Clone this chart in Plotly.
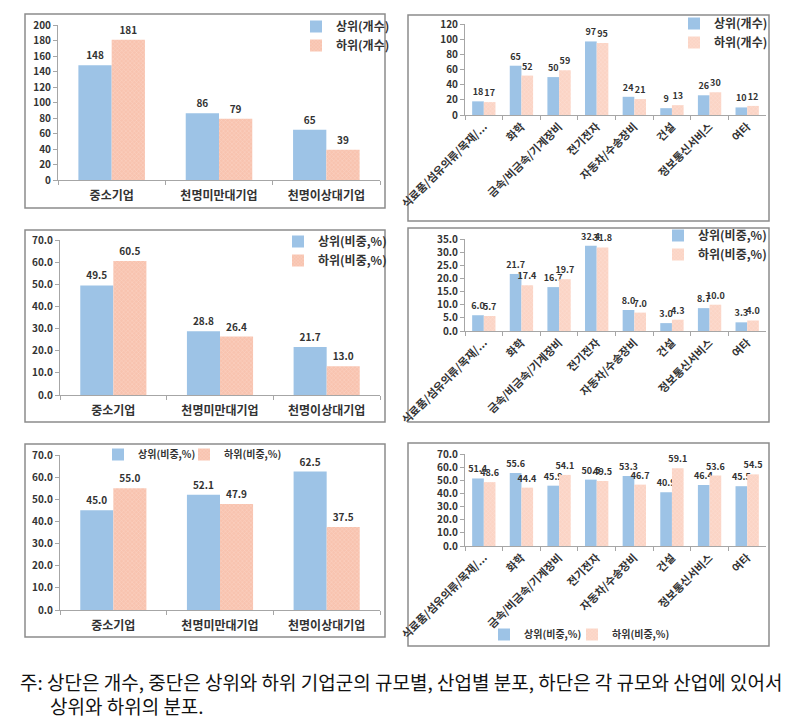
import plotly.graph_objects as go

W, H = 793, 719

size_cats = ["중소기업", "천명미만대기업", "천명이상대기업"]
ind_cats = ["식료품/섬유의류/목재/...", "화학", "금속/비금속/기계장비", "전기전자",
            "자동차/수송장비", "건설", "정보통신서비스", "여타"]

p1_upper = [148, 86, 65]
p1_lower = [181, 79, 39]
p2_upper = [18, 65, 50, 97, 24, 9, 26, 10]
p2_lower = [17, 52, 59, 95, 21, 13, 30, 12]
p3_upper = [49.5, 28.8, 21.7]
p3_lower = [60.5, 26.4, 13.0]
p4_upper = [6.0, 21.7, 16.7, 32.4, 8.0, 3.0, 8.7, 3.3]
p4_lower = [5.7, 17.4, 19.7, 31.8, 7.0, 4.3, 10.0, 4.0]
p5_upper = [45.0, 52.1, 62.5]
p5_lower = [55.0, 47.9, 37.5]
p6_upper = [51.4, 55.6, 45.9, 50.5, 53.3, 40.9, 46.4, 45.5]
p6_lower = [48.6, 44.4, 54.1, 49.5, 46.7, 59.1, 53.6, 54.5]

name_cnt = ("상위(개수)", "하위(개수)")
name_pct = ("상위(비중,%)", "하위(비중,%)")

FONT = "Noto Sans CJK KR"
BLUE = "#9DC3E6"
PINK_BG = "#F8C3AF"
PINK_FG = "#FDE4DA"
PINK_BG2 = "#FBD4C5"
PINK_FG2 = "#FEEAE2"

def px(x):
    return x / W

def py(y):
    return 1 - y / H

panels = [
    dict(c=size_cats, u=p1_upper, l=p1_lower, n=name_cnt, xd=(50, 372), yd=(17, 172), r=200, dt=20, f="d", left=True,
         lg=("legend", "legend")),
    dict(c=ind_cats, u=p2_upper, l=p2_lower, n=name_cnt, xd=(457, 758), yd=(16, 107), r=120, dt=20, f="d", left=False,
         lg=("legend2", "legend2")),
    dict(c=size_cats, u=p3_upper, l=p3_lower, n=name_pct, xd=(52, 372), yd=(232, 387), r=70, dt=10, f=".1f", left=True,
         lg=("legend3", "legend3")),
    dict(c=ind_cats, u=p4_upper, l=p4_lower, n=name_pct, xd=(457, 758), yd=(231, 323), r=35, dt=5, f=".1f", left=False,
         lg=("legend4", "legend4")),
    dict(c=size_cats, u=p5_upper, l=p5_lower, n=name_pct, xd=(52, 372), yd=(447, 602), r=70, dt=10, f=".1f", left=True,
         lg=("legend5", "legend7")),
    dict(c=ind_cats, u=p6_upper, l=p6_lower, n=name_pct, xd=(457, 758), yd=(446, 538), r=70, dt=10, f=".1f", left=False,
         lg=("legend6", "legend8")),
]

legend_cfg = {
    "legend": dict(x=288, y=4, fs=12),
    "legend2": dict(x=666, y=1, fs=12),
    "legend3": dict(x=270, y=219, fs=12),
    "legend4": dict(x=650, y=213, fs=12),
    "legend5": dict(x=90, y=432, fs=10),
    "legend7": dict(x=176, y=432, fs=10),
    "legend6": dict(x=476, y=612, fs=10),
    "legend8": dict(x=564, y=612, fs=10),
}

fig = go.Figure()
layout = dict(
    width=W, height=H, margin=dict(l=0, r=0, t=0, b=0, autoexpand=False),
    paper_bgcolor="white", plot_bgcolor="white",
    barmode="group", bargap=0.38, bargroupgap=0,
    font=dict(family=FONT, color="#333333"),
    shapes=[], annotations=[],
)

for i, p in enumerate(panels):
    k = "" if i == 0 else str(i + 1)
    xa, ya = "x" + k, "y" + k
    tt = "%{y}" if p["f"] == "d" else "%{y:.1f}"
    bg, fg = (PINK_BG, PINK_FG) if p["left"] else (PINK_BG2, PINK_FG2)
    lab = 10 if p["left"] else 9
    fig.add_trace(go.Bar(
        x=p["c"], y=p["u"], name=p["n"][0], xaxis=xa, yaxis=ya, legend=p["lg"][0],
        marker=dict(color=BLUE, line=dict(width=0)),
        texttemplate=tt, textposition="outside", cliponaxis=False, constraintext="none",
        textfont=dict(size=lab, color="#333333", weight="bold"),
    ))
    fig.add_trace(go.Bar(
        x=p["c"], y=p["l"], name=p["n"][1], xaxis=xa, yaxis=ya, legend=p["lg"][1],
        marker=dict(color=bg, line=dict(width=0),
                    pattern=dict(shape="x", fgcolor=fg, bgcolor=bg, size=3, solidity=0.3)),
        texttemplate=tt, textposition="outside", cliponaxis=False, constraintext="none",
        textfont=dict(size=lab, color="#333333", weight="bold"),
    ))
    xdict = dict(
        domain=[px(p["xd"][0]), px(p["xd"][1])], anchor=ya, automargin=False,
        showline=True, linecolor="#A6A6A6", linewidth=1,
        ticks="outside", ticklen=4, tickcolor="#A6A6A6", tickson="boundaries",
        showgrid=False, fixedrange=True,
    )
    if p["left"]:
        xdict.update(tickfont=dict(size=12, color="#333333", weight="bold"), ticklabelstandoff=5, tickangle=0)
    else:
        xdict.update(tickfont=dict(size=11, color="#333333", weight="bold"), tickangle=-45)
    layout["xaxis" + k] = xdict
    layout["yaxis" + k] = dict(
        domain=[py(p["yd"][1]), py(p["yd"][0])], anchor=xa, automargin=False,
        range=[0, p["r"]], dtick=p["dt"], tick0=0,
        tickformat=p["f"],
        showline=True, linecolor="#A6A6A6", linewidth=1,
        ticks="outside", ticklen=4, tickcolor="#A6A6A6",
        showgrid=False, zeroline=False, fixedrange=True,
        tickfont=dict(size=10, color="#333333", weight="bold"),
    )

for name, lc in legend_cfg.items():
    layout[name] = dict(
        x=px(lc["x"]), y=py(lc["y"]), xanchor="left", yanchor="top",
        orientation="v", bgcolor="rgba(0,0,0,0)",
        font=dict(size=lc["fs"], color="#333333", weight="bold"),
        itemwidth=30, tracegroupgap=0, traceorder="normal",
    )

boxes = [(17, 6, 377, 200), (400, 7, 761, 213), (17, 222, 377, 414),
         (400, 220, 761, 414), (17, 436, 377, 629), (400, 435, 761, 638)]
for (x0, y0, x1, y1) in boxes:
    layout["shapes"].append(dict(
        type="rect", xref="paper", yref="paper",
        x0=px(x0), x1=px(x1), y0=py(y1), y1=py(y0),
        line=dict(color="#8C8C8C", width=1.5), fillcolor="rgba(0,0,0,0)", layer="below",
    ))

layout["annotations"] += [
    dict(text="주: 상단은 개수, 중단은 상위와 하위 기업군의 규모별, 산업별 분포, 하단은 각 규모와 산업에 있어서",
         xref="paper", yref="paper", x=px(10), y=py(673), xanchor="left", yanchor="middle",
         showarrow=False, font=dict(size=19, color="#111111", family=FONT)),
    dict(text="상위와 하위의 분포.",
         xref="paper", yref="paper", x=px(40), y=py(697), xanchor="left", yanchor="middle",
         showarrow=False, font=dict(size=19, color="#111111", family=FONT)),
]

fig.update_layout(**layout)
fig.write_html("out.html")
